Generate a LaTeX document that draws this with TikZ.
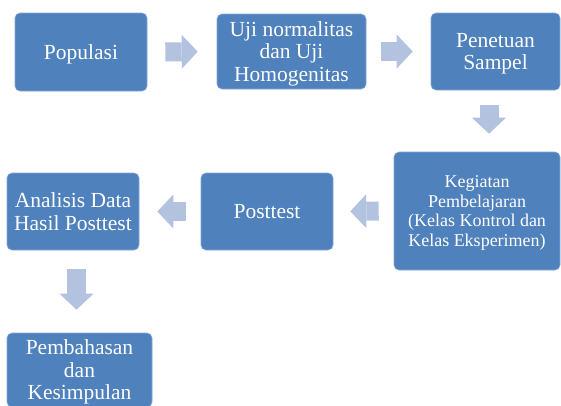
\documentclass[tikz,border=0pt]{standalone}
\usepackage{fontspec}
\setmainfont{Liberation Serif}
\usepackage{tikz}
\usetikzlibrary{arrows.meta}

\definecolor{boxblue}{RGB}{79,129,189}
\definecolor{arrowblue}{RGB}{179,195,223}

\begin{document}
\begin{tikzpicture}[x=1pt,y=-1pt,
    stage/.style={rectangle, rounded corners=5pt, fill=boxblue, draw=boxblue!70!white,
      line width=0.6pt, text=white, align=center, inner sep=2pt, text depth=0pt,
      font=\fontsize{21.5}{22.5}\selectfont},
    flow/.style={draw=arrowblue, line width=19pt,
      -{Triangle[width=34pt,length=16pt,line width=0pt]}}]
    \useasboundingbox (0,0) rectangle (561,405);
    % top row
    \node[stage, minimum width=132pt, minimum height=78pt] (pop) at (81,52) {Populasi};
    \node[stage, minimum width=149pt, minimum height=75pt] (uji) at (291.5,51.5) {Uji normalitas\\dan Uji\\Homogenitas};
    \node[stage, minimum width=129pt, minimum height=77pt] (sampel) at (495.5,51.5) {Penetuan\\Sampel};
    % middle row
    \node[stage, minimum width=166pt, minimum height=118pt,
      font=\fontsize{18}{19.8}\selectfont] (kbm) at (477,211) {Kegiatan\\Pembelajaran\\(Kelas Kontrol dan\\Kelas Eksperimen)};
    \node[stage, minimum width=132pt, minimum height=77pt] (post) at (267,211.5) {Posttest};
    \node[stage, minimum width=132pt, minimum height=77pt] (anal) at (73,211.5) {Analisis Data\\Hasil Posttest};
    % bottom
    \node[stage, minimum width=145pt, minimum height=74pt] (bahas) at (79.5,370) {Pembahasan\\dan\\Kesimpulan};

    \draw[flow, shorten <=18pt, shorten >=19pt] (pop.east) -- (uji.west);
    \draw[flow, shorten <=15pt, shorten >=18pt] (uji.east) -- (sampel.west);
    \draw[flow, shorten <=15pt, shorten >=18pt] ([xshift=-6.5pt]sampel.south) -- ([xshift=12pt]kbm.north);
    \draw[flow, shorten <=15pt, shorten >=17pt] (kbm.west) -- (post.east);
    \draw[flow, shorten <=15pt, shorten >=18pt] (post.west) -- (anal.east);
    \draw[flow, shorten <=19pt, shorten >=23pt] ([xshift=3.5pt]anal.south) -- ([xshift=-3pt]bahas.north);
\end{tikzpicture}
\end{document}
